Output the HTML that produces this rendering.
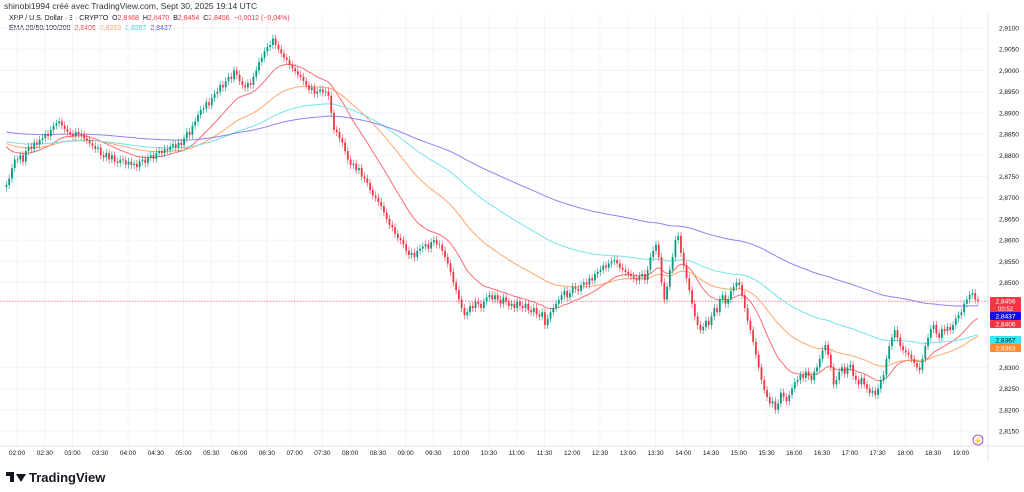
<!DOCTYPE html>
<html><head><meta charset="utf-8"><style>
body{margin:0;background:#fff;font-family:"Liberation Sans",sans-serif;}
#wrap{position:relative;width:1024px;height:492px;overflow:hidden;background:#fff}
.hdr{position:absolute;left:4px;font-size:8px;color:#131722;white-space:nowrap}
</style></head><body>
<div id="wrap">
<div class="hdr" style="top:1px;font-size:8.5px;color:#333">shinobi1994 créé avec TradingView.com, Sept 30, 2025 19:14 UTC</div>
<div class="hdr" style="top:15px;left:9px;font-size:7px">XRP / U.S. Dollar · 3 · CRYPTO &nbsp;O<span style="color:#f23645">2,8468</span> &nbsp;H<span style="color:#f23645">2,8470</span> &nbsp;B<span style="color:#f23645">2,8454</span> &nbsp;C<span style="color:#f23645">2,8456 &nbsp;−0,0012 (−0,04%)</span></div>
<div class="hdr" style="top:25px;left:9px;font-size:7px">EMA 20/50/100/200 &nbsp;<span style="color:#f23645">2,8406</span> &nbsp;<span style="color:#ff9850">2,8363</span> &nbsp;<span style="color:#22d3dc">2,8367</span> &nbsp;<span style="color:#3d3df5">2,8437</span></div>
<svg id="chart" width="1024" height="492" style="position:absolute;left:0;top:0"></svg>
<div style="position:absolute;left:6px;top:470px;height:14px;width:20px">
<div style="position:absolute;left:0;top:2px;width:8px;height:4px;background:#131722"></div>
<div style="position:absolute;left:4px;top:2px;width:4px;height:10px;background:#131722"></div>
<div style="position:absolute;left:10px;top:4px;width:0;height:0;border-left:5px solid transparent;border-right:5px solid transparent;border-top:8px solid #131722"></div>
</div>
<div style="position:absolute;left:29px;top:470px;font-size:13px;font-weight:bold;color:#131722">TradingView</div>
</div>
<script>
const closes=[730,745,770,790,790,800,785,810,820,815,830,825,836,840,850,845,860,870,875,880,870,862,855,850,845,855,850,848,840,835,828,822,815,818,800,795,805,790,800,785,782,790,788,778,785,777,780,772,786,790,782,795,800,792,805,810,805,815,812,820,826,818,830,824,840,855,848,870,880,895,907,910,925,918,935,945,950,966,960,975,985,980,1000,990,975,965,960,970,966,985,1000,1020,1030,1045,1055,1060,1075,1060,1050,1040,1030,1025,1013,1005,998,990,985,975,965,954,960,945,950,955,948,950,940,900,860,855,840,830,810,790,777,780,765,770,750,745,735,718,705,700,690,680,665,650,636,630,615,605,600,590,575,565,570,560,575,580,585,590,580,595,600,590,589,575,560,545,525,500,482,460,440,423,430,445,440,455,450,440,455,465,470,460,470,460,450,465,455,445,450,440,455,445,440,450,435,430,440,425,420,430,400,415,430,440,450,459,470,480,465,475,490,485,480,494,500,495,510,505,520,525,530,540,535,545,550,553,545,535,530,525,520,515,510,505,515,520,506,530,560,575,589,560,500,460,490,530,560,600,610,570,540,510,482,450,420,400,388,395,410,400,420,440,430,460,470,450,460,480,490,500,494,470,440,410,388,360,330,300,270,247,230,215,220,200,215,240,230,220,235,250,265,270,282,275,290,280,270,290,300,320,340,353,330,300,260,270,290,300,285,300,306,280,270,260,275,260,250,240,245,235,250,270,282,320,350,370,388,370,350,340,335,330,320,310,300,294,320,350,370,390,400,380,370,390,385,395,388,400,415,423,430,450,460,471,475,460,456];
const firstOpen=725;
const emaPeriods=[20,50,100,200];
const emaSeeds=[2.8830,2.8832,2.8835,2.8856];
const priceTicks=[2.9100,2.9050,2.9000,2.8950,2.8900,2.8850,2.8800,2.8750,2.8700,2.8650,2.8600,2.8550,2.8500,2.8300,2.8250,2.8200,2.8150];
const timeLabels=["02:00","02:30","03:00","03:30","04:00","04:30","05:00","05:30","06:00","06:30","07:00","07:30","08:00","08:30","09:00","09:30","10:00","10:30","11:00","11:30","12:00","12:30","13:00","13:30","14:00","14:30","15:00","15:30","16:00","16:30","17:00","17:30","18:00","18:30","19:00"];
const tagValues=[2.8456,2.8437,2.8406,2.8367,2.8363];
const emaColors=["#f7525f","#ff9850","#5ce1e6","#7e6cf0"];
const tagColors=["#f23645","#1010e0","#f23645","#33e8f0","#ff8a30"];
const tagText=["#fff","#fff","#fff","#131722","#fff"];
const svg=document.getElementById('chart');const NS='http://www.w3.org/2000/svg';
const plotL=0,plotR=988,plotT=14,plotB=446;
const py=p=>28+(2.91-p)/0.005*21.21;
const cx=i=>6.4+i*2.776;
const tx=k=>17+k*27.76;
function mk(t,a,name,inter){const e=document.createElementNS(NS,t);for(const k in a)e.setAttribute(k,a[k]);


svg.appendChild(e);return e;}
priceTicks.forEach((p,i)=>{mk('line',{x1:plotL,x2:plotR,y1:py(p),y2:py(p),stroke:'#f0f3fa','stroke-width':1},'h-gridline','false');
const t=mk('text',{x:999,y:py(p)+2.5,'font-size':6.5,fill:'#131722'},'y-tick-label','false');t.textContent=p.toFixed(4).replace('.',',');});
timeLabels.forEach((s,k)=>{mk('line',{x1:tx(k),x2:tx(k),y1:plotT,y2:plotB,stroke:'#f0f3fa','stroke-width':1},'v-gridline','false');
const t=mk('text',{x:tx(k),y:455,'font-size':6.5,fill:'#131722','text-anchor':'middle'},'x-tick-label','false');t.textContent=s;});
mk('line',{x1:plotR,x2:plotR,y1:plotT,y2:462,stroke:'#e0e3eb'},'price-axis-border','false');
mk('line',{x1:0,x2:1024,y1:plotB,y2:plotB,stroke:'#e0e3eb'},'time-axis-border','false');
const last=2.8+closes[closes.length-1]/10000;
mk('line',{x1:0,x2:plotR,y1:py(last),y2:py(last),stroke:'#f23645','stroke-width':0.7,'stroke-dasharray':'1.5,1.5'},'last-price-line','false');
const cl=closes.map(v=>2.8+v/10000);
emaPeriods.forEach((n,j)=>{const a=2/(n+1);let e=emaSeeds[j];let d='';
cl.forEach((c,i)=>{e=a*c+(1-a)*e;d+=(i?'L':'M')+cx(i).toFixed(1)+','+py(e).toFixed(1);});
mk('path',{d:d,fill:'none',stroke:emaColors[j],'stroke-width':1,opacity:0.85},'ema-'+n+'-line','false');});
cl.forEach((c,i)=>{const o=i?cl[i-1]:2.8+firstOpen/10000;const up=c>=o;const col=up?'#089981':'#f23645';
const yt=py(Math.max(o,c)),yb=py(Math.min(o,c));
mk('line',{x1:cx(i),x2:cx(i),y1:yt-4,y2:yb+4,stroke:col,'stroke-width':0.6},'candle-wick','false');
mk('rect',{x:cx(i)-0.9,y:yt,width:1.8,height:Math.max(0.8,yb-yt),fill:col},'candle-body','false');});
const tagY=[301,316,324,340,348];
tagValues.forEach((v,i)=>{const y=tagY[i];const h=i==0?16:8;const top=y-4;
mk('rect',{x:990,y:top,width:31,height:h,rx:1,fill:tagColors[i]},'price-tag','false');
const t=mk('text',{x:1005.5,y:y+2.5,'font-size':6.5,fill:tagText[i],'text-anchor':'middle'},'price-tag-label','false');t.textContent=v.toFixed(4).replace('.',',');
if(i==0){const t2=mk('text',{x:1005.5,y:y+10,'font-size':6,fill:'#fff','text-anchor':'middle'},'countdown-label','false');t2.textContent='00:52';}});
mk('circle',{cx:978,cy:440,r:5,fill:'#fff',stroke:'#9c27b0','stroke-width':0.8},'alert-icon','true');
const z=mk('text',{x:978,y:443,'font-size':7,fill:'#9c27b0','text-anchor':'middle'},'alert-icon-glyph','false');z.textContent='⚡';
</script>
</body></html>
